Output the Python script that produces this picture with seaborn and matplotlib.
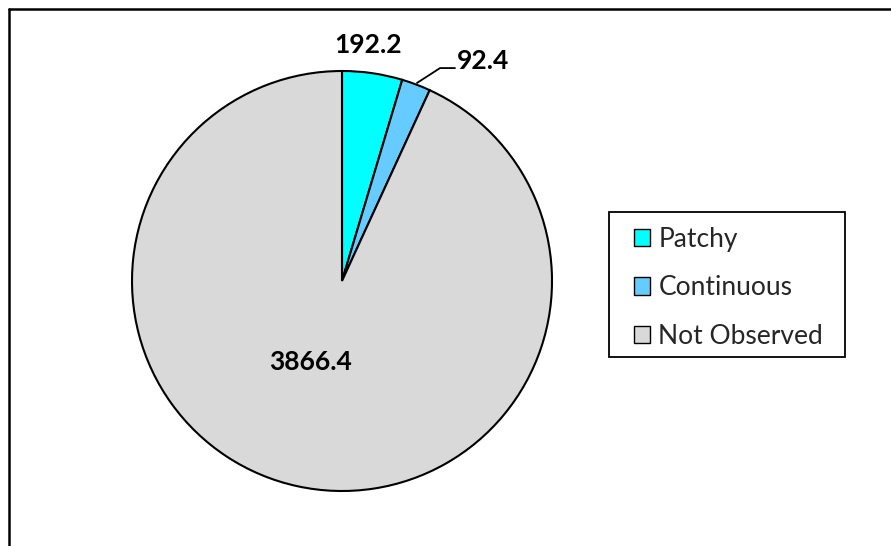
import matplotlib
matplotlib.use("Agg")
import matplotlib.pyplot as plt
from matplotlib.patches import Patch, Rectangle
from matplotlib.lines import Line2D
import seaborn as sns

categories = ["Patchy", "Continuous", "Not Observed"]
values = [192.2, 92.4, 3866.4]
value_labels = ["192.2", "92.4", "3866.4"]
colors = ["#00FFFF", "#66CCFF", "#D9D9D9"]

sns.set_theme(style="white")
plt.rcParams["font.family"] = ["Lato", "DejaVu Sans"]

W, H = 891, 546
fig = plt.figure(figsize=(W / 100, H / 100), dpi=100)

# pie centred at (342, 281) px with a 210 px radius
cx, cy, r = 342, 281, 210
ax = fig.add_axes([(cx - r) / W, (H - cy - r) / H, 2 * r / W, 2 * r / H])
wedges, _ = ax.pie(values, colors=colors, startangle=90, counterclock=False,
                   radius=1.0, wedgeprops=dict(edgecolor="black", linewidth=1.5))
ax.set_xlim(-1, 1)
ax.set_ylim(-1, 1)
ax.set_aspect("equal")
ax.axis("off")

lab_font = dict(fontsize=19, fontweight="bold", color="black")
ax.text(0.124, 1.124, value_labels[0], ha="center", va="center", **lab_font)
ax.text(0.548, 1.048, value_labels[1], ha="left", va="center", **lab_font)
ax.text(-0.148, -0.386, value_labels[2], ha="center", va="center", **lab_font)

# leader line for the thin slice
ax.add_line(Line2D([0.357, 0.467, 0.538], [0.943, 1.014, 1.014],
                   color="black", linewidth=1.3, clip_on=False))

# legend entries (frame drawn separately)
handles = [Patch(facecolor=c, edgecolor="black", linewidth=1.0) for c in colors]
leg = fig.legend(handles, categories, loc="upper left",
                 bbox_to_anchor=(634 / W, 1 - 226.5 / H), bbox_transform=fig.transFigure,
                 fontsize=19, frameon=False,
                 handlelength=0.62, handleheight=0.62, handletextpad=0.3,
                 labelspacing=0.9, borderpad=0, borderaxespad=0)
fig.add_artist(Rectangle((609 / W, 1 - 357 / H), (845 - 609) / W, (357 - 212) / H,
                         transform=fig.transFigure, facecolor="none",
                         edgecolor="black", linewidth=1.3))

# chart-area border (left and top edges)
fig.add_artist(Line2D([8.5 / W, 8.5 / W], [0, 1 - 8.5 / H], color="black",
                      linewidth=1.8, transform=fig.transFigure))
fig.add_artist(Line2D([8.5 / W, 1], [1 - 8.5 / H, 1 - 8.5 / H], color="black",
                      linewidth=1.8, transform=fig.transFigure))

fig.savefig("out.png", dpi=100, facecolor="white")
